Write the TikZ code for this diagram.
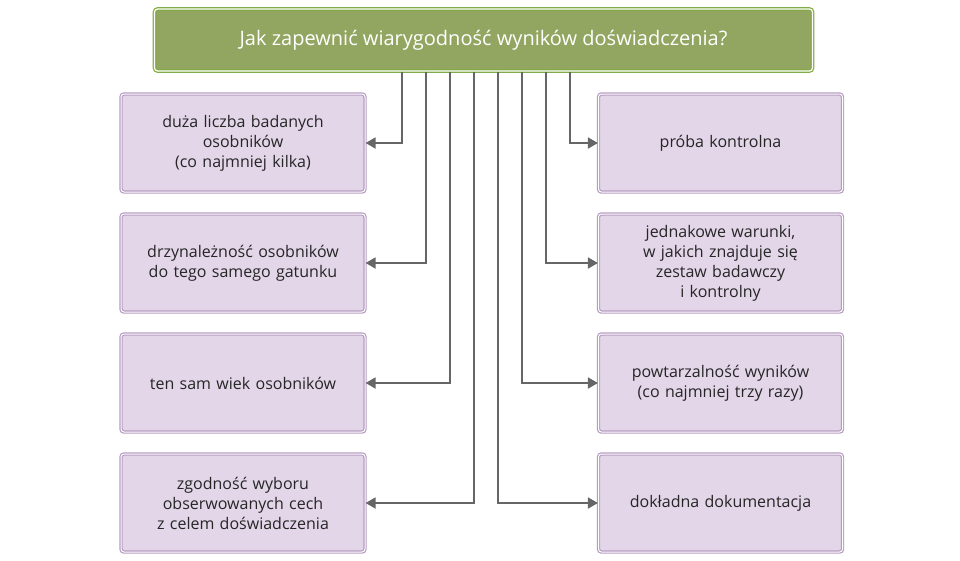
\documentclass[tikz,border=0pt]{standalone}
\usepackage{fontspec}
\setmainfont{Open Sans}
\usetikzlibrary{arrows.meta}
\definecolor{titlegreen}{RGB}{147,166,97}
\definecolor{titleedge}{RGB}{130,170,70}
\definecolor{boxfill}{RGB}{226,214,232}
\definecolor{boxedge}{RGB}{183,156,194}
\definecolor{linkgray}{RGB}{102,102,102}
\tikzset{>={Triangle[length=10pt,width=11pt]},
  titlebox/.style={draw=titleedge, double=white, double distance=1.2pt, line width=1.2pt,
    fill=titlegreen, rounded corners=3pt, minimum width=658pt, minimum height=62pt,
    text=white, font=\fontsize{20}{24}\selectfont},
  itembox/.style={draw=boxedge, double=white, double distance=1pt, line width=1.2pt,
    fill=boxfill, rounded corners=3pt, minimum width=244pt, minimum height=98pt,
    text width=230pt, align=center, text=black!85, font=\fontsize{16}{20}\selectfont},
  link/.style={draw=linkgray, line width=1.8pt, ->, color=linkgray}
}
\begin{document}
\begin{tikzpicture}[x=1pt,y=-1pt]
\useasboundingbox (0,0) rectangle (960,560);
\node[titlebox] (title) at (483.5,40) {Jak zapewnić wiarygodność wyników doświadczenia?};
% left column
\node[itembox] (l1) at (243,143) {duża liczba badanych\\osobników\\(co najmniej kilka)};
\node[itembox] (l2) at (243,263) {drzynależność osobników\\do tego samego gatunku};
\node[itembox] (l3) at (243,383) {ten sam wiek osobników};
\node[itembox] (l4) at (243,503) {zgodność wyboru\\obserwowanych cech\\z celem doświadczenia};
% right column
\node[itembox] (r1) at (720.5,143) {próba kontrolna};
\node[itembox] (r2) at (720.5,263) {jednakowe warunki,\\w jakich znajduje się\\zestaw badawczy\\i kontrolny};
\node[itembox] (r3) at (720.5,383) {powtarzalność wyników\\(co najmniej trzy razy)};
\node[itembox] (r4) at (720.5,503) {dokładna dokumentacja};
% connectors
\foreach \t/\x in {l1/402,l2/426,l3/450,l4/474}
  \draw[link] (title.south -| \x,0) |- (\t.east);
\foreach \t/\x in {r1/570,r2/546,r3/522,r4/498}
  \draw[link] (title.south -| \x,0) |- (\t.west);
\end{tikzpicture}
\end{document}
